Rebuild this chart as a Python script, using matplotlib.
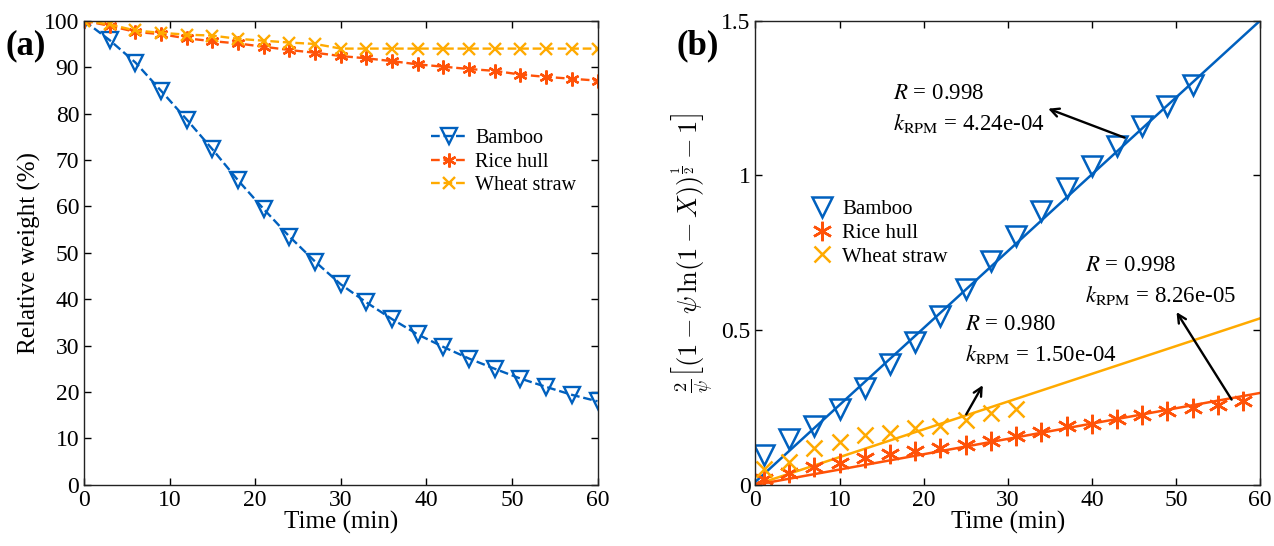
import numpy as np
import matplotlib
matplotlib.use('Agg')
import matplotlib.pyplot as plt

plt.rcParams['font.family'] = ['Liberation Serif', 'DejaVu Serif']
plt.rcParams['mathtext.fontset'] = 'stix'

# (a) relative weight vs time
time_a = [0, 3, 6, 9, 12, 15, 18, 21, 24, 27, 30, 33, 36, 39, 42, 45, 48, 51, 54, 57, 60]
bamboo_w = [100, 95.8, 91.0, 84.9, 78.7, 72.3, 65.6, 59.4, 53.5, 48.1, 43.2, 39.3, 35.7,
            32.4, 29.7, 27.2, 25.0, 22.9, 21.1, 19.4, 18.0]
rice_w = [100, 98.9, 97.6, 97.1, 96.2, 95.6, 95.1, 94.4, 93.7, 93.1, 92.4, 91.9, 91.3,
          90.6, 90.1, 89.6, 89.2, 88.4, 87.9, 87.5, 87.1]
wheat_w = [100, 99.2, 97.9, 97.4, 97.0, 96.8, 96.1, 95.7, 95.3, 95.0, 94.0, 94.0, 94.0,
           94.0, 94.0, 94.0, 94.0, 94.0, 94.0, 94.0, 94.0]

# (b) RPM linearisation
time_bamboo = [1, 4, 7, 10, 13, 16, 19, 22, 25, 28, 31, 34, 37, 40, 43, 46, 49, 52]
bamboo_g = [0.097, 0.148, 0.189, 0.245, 0.313, 0.389, 0.461, 0.545, 0.632, 0.723, 0.804,
            0.885, 0.958, 1.030, 1.095, 1.160, 1.224, 1.291]
time_rice = [1, 4, 7, 10, 13, 16, 19, 22, 25, 28, 31, 34, 37, 40, 43, 46, 49, 52, 55, 58]
rice_g = [0.018, 0.038, 0.057, 0.072, 0.086, 0.100, 0.111, 0.119, 0.129, 0.143, 0.159,
          0.171, 0.189, 0.198, 0.214, 0.225, 0.238, 0.248, 0.259, 0.272]
time_wheat = [1, 4, 7, 10, 13, 16, 19, 22, 25, 28, 31]
wheat_g = [0.051, 0.075, 0.119, 0.137, 0.162, 0.167, 0.183, 0.189, 0.208, 0.232, 0.245]

# fitted lines (end points)
fit_t = [0, 60]
bamboo_fit = [0.010, 1.500]
rice_fit = [0.000, 0.297]
wheat_fit = [0.000, 0.538]

fit_labels = ['$R$ = 0.998\n$k_{\\mathrm{RPM}}$ = 4.24e-04',
              '$R$ = 0.998\n$k_{\\mathrm{RPM}}$ = 8.26e-05',
              '$R$ = 0.980\n$k_{\\mathrm{RPM}}$ = 1.50e-04']
# text position, arrow head, arrow tail (data coords)
label_pos = [(16.4, 1.214), (39.2, 0.66), (24.9, 0.468)]
arrow_head = [(34.5, 1.219), (49.9, 0.566), (27.2, 0.330)]
arrow_tail = [(44.2, 1.119), (56.8, 0.268), (24.9, 0.220)]

c_bamboo = '#0060BE'
c_rice = '#FF5208'
c_wheat = '#FFAA00'
asterisk = (6, 2, 0)

fig = plt.figure(figsize=(12.74, 5.46), dpi=100)
axA = fig.add_axes([0.066, 0.112, 0.403, 0.850])
axB = fig.add_axes([0.593, 0.112, 0.396, 0.850])

for ax in (axA, axB):
    ax.tick_params(direction='in', top=True, right=True, labelsize=17, length=5, width=1)
    for s in ax.spines.values():
        s.set_linewidth(1.0)
        s.set_color('#222222')

# panel (a)
axA.plot(time_a, bamboo_w, '--', color=c_bamboo, marker='v', mfc='none', ms=11, mew=1.7,
         lw=1.7, label='Bamboo')
axA.plot(time_a, rice_w, '--', color=c_rice, marker=asterisk, ms=10, mew=1.7,
         lw=1.7, label='Rice hull')
axA.plot(time_a, wheat_w, '--', color=c_wheat, marker='x', ms=8, mew=1.7,
         lw=1.7, label='Wheat straw')
axA.set_xlim(0, 60)
axA.set_ylim(0, 100)
axA.set_xticks(np.arange(0, 61, 10))
axA.set_yticks(np.arange(0, 101, 10))
axA.set_xlabel('Time (min)', fontsize=18, labelpad=0)
axA.set_ylabel('Relative weight (%)', fontsize=18, labelpad=2)
axA.legend(loc='upper left', bbox_to_anchor=(0.64, 0.805), frameon=False, fontsize=14.5,
           handlelength=1.8, handletextpad=0.4, labelspacing=0.2)
fig.text(0.004, 0.9, '(a)', fontsize=25, fontweight='bold')

# panel (b)
axB.plot(fit_t, bamboo_fit, '-', color=c_bamboo, lw=1.8)
axB.plot(fit_t, wheat_fit, '-', color=c_wheat, lw=1.8)
axB.plot(fit_t, rice_fit, '-', color=c_rice, lw=1.8)
axB.plot(time_bamboo, bamboo_g, 'v', color=c_bamboo, mfc='none', ms=15, mew=1.8,
         label='Bamboo')
axB.plot(time_rice, rice_g, ls='none', marker=asterisk, color=c_rice, ms=14, mew=1.8,
         label='Rice hull')
axB.plot(time_wheat, wheat_g, 'x', color=c_wheat, ms=11, mew=1.8, label='Wheat straw')
axB.set_xlim(0, 60)
axB.set_ylim(0, 1.5)
axB.set_xticks(np.arange(0, 61, 10))
axB.set_yticks([0, 0.5, 1, 1.5])
axB.set_yticklabels(['0', '0.5', '1', '1.5'])
axB.set_xlabel('Time (min)', fontsize=18, labelpad=0)
axB.set_ylabel(r'$\frac{2}{\psi}\left[(1-\psi\,\ln(1-X))^{\frac{1}{2}}-1\right]$',
               fontsize=19, math_fontfamily='cm', labelpad=4)
axB.legend(loc='upper left', bbox_to_anchor=(0.075, 0.655), frameon=False, fontsize=15,
           handlelength=1.0, handletextpad=0.45, labelspacing=0.2)
fig.text(0.531, 0.9, '(b)', fontsize=25, fontweight='bold')

arrow = dict(arrowstyle='->', color='black', lw=1.7, mutation_scale=15)
for lab, pos, head, tail in zip(fit_labels, label_pos, arrow_head, arrow_tail):
    axB.annotate('', xy=head, xytext=tail, arrowprops=arrow)
    axB.text(pos[0], pos[1], lab, fontsize=16.5, ha='left', va='center', linespacing=1.45)

fig.savefig('out.png', dpi=100)
